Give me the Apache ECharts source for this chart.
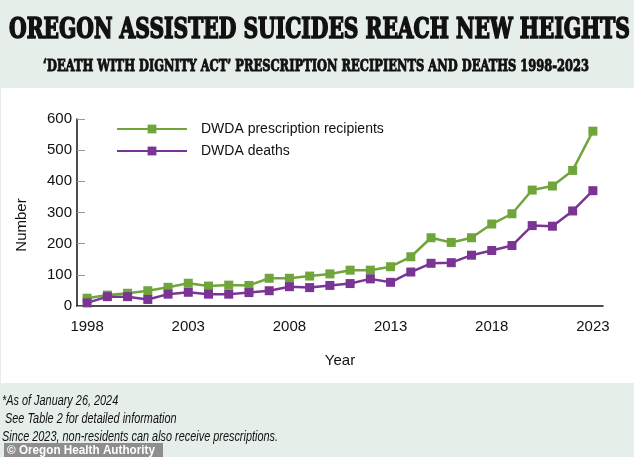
<!DOCTYPE html>
<html><head><meta charset="utf-8">
<script src="https://cdn.jsdelivr.net/npm/echarts@6/dist/echarts.min.js"></script>
<style>html,body{margin:0;padding:0;background:#e6eeea;}#c{width:634px;height:457px;}</style>
</head><body><div id="c"></div>
<script>
const years = ['1998','1999','2000','2001','2002','2003','2004','2005','2006','2007','2008','2009','2010','2011','2012','2013','2014','2015','2016','2017','2018','2019','2020','2021','2022','2023'];
const recipients = [25,35,41,49,60,73,64,67,66,89,89,96,103,115,115,126,158,219,204,219,263,296,372,385,435,561];
const deaths = [10,30,30,21,38,44,38,38,43,49,62,59,66,72,87,76,109,137,139,163,178,194,258,256,305,370];
const seriesNames = ['DWDA prescription recipients','DWDA deaths'];
const titleText = 'OREGON ASSISTED SUICIDES REACH NEW HEIGHTS';
const subtitleText = '\u2018DEATH WITH DIGNITY ACT\u2019 PRESCRIPTION RECIPIENTS AND DEATHS 1998-2023';
const footnotes = ['*As of January 26, 2024',' See Table 2 for detailed information','Since 2023, non-residents can also receive prescriptions.'];
const creditText = '\u00A9 Oregon Health Authority';
const xAxisName = 'Year';
const yAxisName = 'Number';

const GREEN = '#70a53c', PURPLE = '#7a3494';
const mctx = document.createElement('canvas').getContext('2d');
function fitScale(text, font, w){ mctx.font = font; return w / mctx.measureText(text).width; }

const titleFont = 'bold 27px "DejaVu Serif"';
const subFont = 'bold 17px "DejaVu Serif"';
const noteFont = 'italic 14px "Liberation Sans"';
const noteScale = fitScale(footnotes[2], noteFont, 276);

const chart = echarts.init(document.getElementById('c'), null, {renderer:'canvas'});
chart.setOption({
  backgroundColor:'#e6eeea',
  animation:false,
  textStyle:{fontFamily:'"Liberation Sans", Arial, sans-serif'},
  grid:{left:77,right:31,top:119,bottom:151},
  legend:{orient:'vertical',left:116,top:122,padding:0,itemWidth:70,itemHeight:11,itemGap:8,
    textStyle:{fontSize:14,color:'#111',padding:[0,0,0,9]},data:seriesNames},
  xAxis:{type:'category',data:years,boundaryGap:true,
    axisLine:{lineStyle:{color:'#111',width:1.5}},
    axisTick:{inside:true,length:3,interval:0,lineStyle:{color:'#999'}},
    axisLabel:{interval:4,margin:13,fontSize:15,color:'#111'},
    name:xAxisName,nameLocation:'middle',nameGap:47,nameTextStyle:{fontSize:15,color:'#111'}},
  yAxis:{type:'value',min:0,max:600,interval:100,splitLine:{show:false},
    axisLine:{show:true,lineStyle:{color:'#111',width:1.5}},
    axisTick:{show:true,inside:true,length:8,lineStyle:{color:'#999'}},
    axisLabel:{fontSize:15,color:'#111',margin:5}},
  graphic:[
    {type:'rect',z:-10,shape:{x:1,y:88,width:633,height:295},style:{fill:'#ffffff'}},
    {type:'text',x:319.5,y:31,scaleX:fitScale(titleText,titleFont,621),
      style:{text:titleText,font:titleFont,fill:'#111',stroke:'#111',lineWidth:1.6,align:'center',verticalAlign:'middle'}},
    {type:'text',x:316,y:67,scaleX:fitScale(subtitleText,subFont,546),
      style:{text:subtitleText,font:subFont,fill:'#111',stroke:'#111',lineWidth:1,align:'center',verticalAlign:'middle'}},
    {type:'text',x:22,y:225,rotation:Math.PI/2,
      style:{text:yAxisName,font:'15px "Liberation Sans"',fill:'#111',align:'center',verticalAlign:'middle'}},
    {type:'text',x:2,y:401,scaleX:noteScale,style:{text:footnotes[0],font:noteFont,fill:'#111',align:'left',verticalAlign:'middle'}},
    {type:'text',x:2,y:419,scaleX:noteScale,style:{text:footnotes[1],font:noteFont,fill:'#111',align:'left',verticalAlign:'middle'}},
    {type:'text',x:2,y:437,scaleX:noteScale,style:{text:footnotes[2],font:noteFont,fill:'#111',align:'left',verticalAlign:'middle'}},
    {type:'rect',shape:{x:4,y:443,width:159,height:14},style:{fill:'#8e8e8e'}},
    {type:'text',x:7,y:450,scaleX:fitScale(creditText,'bold 13px "Liberation Sans"',148),
      style:{text:creditText,font:'bold 13px "Liberation Sans"',fill:'#ffffff',align:'left',verticalAlign:'middle'}}
  ],
  series:[
    {name:seriesNames[0],type:'line',data:recipients,symbol:'rect',symbolSize:9,
      lineStyle:{width:2.5,color:GREEN},itemStyle:{color:GREEN}},
    {name:seriesNames[1],type:'line',data:deaths,symbol:'rect',symbolSize:9,
      lineStyle:{width:2.5,color:PURPLE},itemStyle:{color:PURPLE}}
  ]
});
</script></body></html>
